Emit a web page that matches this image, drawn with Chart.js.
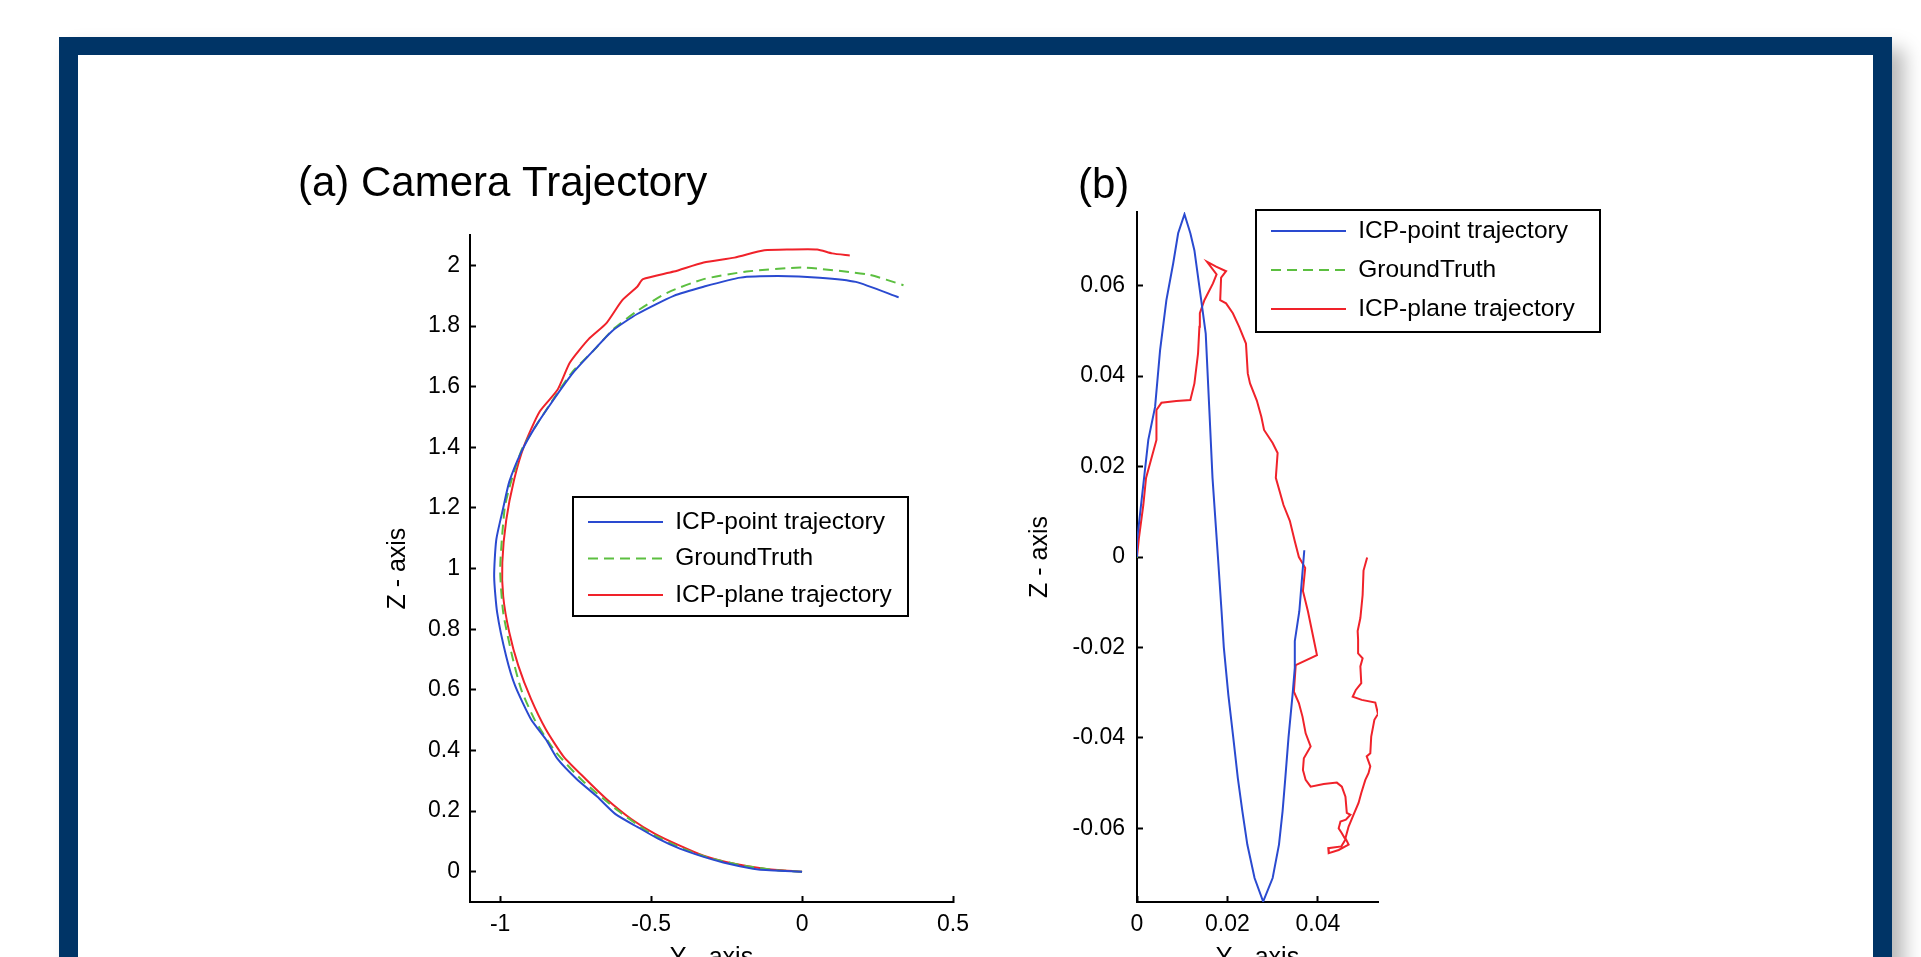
<!DOCTYPE html>
<html>
<head>
<meta charset="utf-8">
<script src="https://cdn.jsdelivr.net/npm/chart.js@4"></script>
<style>
  html, body { margin: 0; padding: 0; width: 1921px; height: 957px; overflow: hidden; background: #fff; }
  #frame { position: absolute; left: 59px; top: 37px; width: 1833px; height: 1100px; box-sizing: border-box;
           border: 19px solid #003466; border-top-width: 18px; background: #fff;
           box-shadow: 12px 12px 18px rgba(0,0,0,0.28); }
  #ca { position: absolute; left: 298px; top: 150px; }
  #cb { position: absolute; left: 1000px; top: 150px; }
</style>
</head>
<body>
<div id="frame"></div>
<canvas id="ca" width="700" height="832"></canvas>
<canvas id="cb" width="620" height="832"></canvas>
<script>
// ---------------- data ----------------
const TITLE_A = '(a) Camera Trajectory';
const TITLE_B = '(b)';
const SERIES_NAMES = ['ICP-point trajectory', 'GroundTruth', 'ICP-plane trajectory'];
const X_AXIS_TITLE = 'Y - axis';
const Y_AXIS_TITLE = 'Z - axis';

// chart (a)
const A_X_RANGE = [-1.1, 0.5];
const A_Y_RANGE = [-0.1, 2.1];
const A_X_TICKS = [-1, -0.5, 0, 0.5];
const A_X_TICK_LABELS = ['-1', '-0.5', '0', '0.5'];
const A_Y_TICKS = [0, 0.2, 0.4, 0.6, 0.8, 1, 1.2, 1.4, 1.6, 1.8, 2];
const A_Y_TICK_LABELS = ['0', '0.2', '0.4', '0.6', '0.8', '1', '1.2', '1.4', '1.6', '1.8', '2'];

const A_POINT_Y = [0, -0.145, -0.243, -0.326, -0.405, -0.477, -0.546, -0.618, -0.678, -0.747,
  -0.81, -0.849, -0.898, -0.95, -0.98, -1.01, -1.02, -1.013, -0.99, -0.97,
  -0.93, -0.888, -0.829, -0.757, -0.687, -0.628, -0.546, -0.425, -0.326, -0.204,
  -0.08, 0.058, 0.178, 0.32];
const A_POINT_Z = [0, 0.007, 0.026, 0.049, 0.076, 0.109, 0.148, 0.19, 0.247, 0.306,
  0.372, 0.437, 0.503, 0.612, 0.71, 0.855, 0.974, 1.095, 1.2, 1.286,
  1.385, 1.461, 1.549, 1.648, 1.724, 1.785, 1.84, 1.9, 1.93, 1.96,
  1.965, 1.96, 1.946, 1.895];

const A_TRUTH_Y = [0, -0.083, -0.194, -0.306, -0.405, -0.507, -0.608, -0.727, -0.82, -0.885,
  -0.93, -0.96, -0.99, -1.0, -0.985, -0.963, -0.925, -0.83, -0.76, -0.69,
  -0.625, -0.546, -0.447, -0.326, -0.184, 0.0, 0.22, 0.336];
const A_TRUTH_Z = [0, 0.005, 0.02, 0.045, 0.08, 0.13, 0.2, 0.3, 0.4, 0.5,
  0.6, 0.71, 0.855, 1.0, 1.2, 1.29, 1.4, 1.55, 1.65, 1.72,
  1.79, 1.85, 1.91, 1.955, 1.98, 1.993, 1.97, 1.935];

const A_PLANE_Y = [0, -0.125, -0.224, -0.326, -0.405, -0.487, -0.566, -0.648, -0.717, -0.79,
  -0.849, -0.898, -0.94, -0.97, -0.99, -0.993, -0.98, -0.954, -0.92, -0.87,
  -0.81, -0.769, -0.707, -0.648, -0.596, -0.546, -0.527, -0.425, -0.326, -0.224,
  -0.125, -0.04, 0.05, 0.1, 0.158];
const A_PLANE_Z = [0, 0.01, 0.026, 0.053, 0.086, 0.125, 0.174, 0.24, 0.306, 0.38,
  0.47, 0.57, 0.68, 0.79, 0.908, 1.02, 1.16, 1.293, 1.407, 1.517,
  1.59, 1.68, 1.757, 1.81, 1.885, 1.93, 1.955, 1.98, 2.01, 2.026,
  2.05, 2.053, 2.053, 2.04, 2.033];

// chart (b)
const B_X_RANGE = [0, 0.0533];
const B_Y_RANGE = [-0.0763, 0.0763];
const B_X_TICKS = [0, 0.02, 0.04];
const B_X_TICK_LABELS = ['0', '0.02', '0.04'];
const B_Y_TICKS = [-0.06, -0.04, -0.02, 0, 0.02, 0.04, 0.06];
const B_Y_TICK_LABELS = ['-0.06', '-0.04', '-0.02', '0', '0.02', '0.04', '0.06'];

const B_POINT_Y = [0, 0.0, 0.0025, 0.004, 0.0051, 0.0065, 0.008, 0.0091, 0.0105, 0.0118,
  0.0127, 0.0142, 0.0152, 0.016, 0.0167, 0.0179, 0.0187, 0.0192, 0.0202, 0.0213,
  0.0223, 0.0233, 0.0244, 0.026, 0.0279, 0.030, 0.0314, 0.0322, 0.0328, 0.0335,
  0.0344, 0.0349, 0.0349, 0.0359, 0.0365, 0.037];
const B_POINT_Z = [0, 0.0035, 0.0259, 0.0332, 0.0457, 0.0568, 0.0649, 0.0716, 0.0758, 0.0716,
  0.0678, 0.0568, 0.0494, 0.0325, 0.0175, 0.0, -0.012, -0.02, -0.0305, -0.04,
  -0.0489, -0.0562, -0.0636, -0.071, -0.0762, -0.071, -0.0636, -0.0562, -0.0489, -0.04,
  -0.0305, -0.0245, -0.0186, -0.012, -0.0046, 0.0015];

const B_TRUTH_Y = [0, 0.0002];
const B_TRUTH_Z = [0, 0];

const B_PLANE_Y = [0, 0.0004, 0.0014, 0.002, 0.0043, 0.0043, 0.0054, 0.0087, 0.0118, 0.0127,
  0.0135, 0.0138, 0.0139, 0.0149, 0.0168, 0.0176, 0.0155, 0.0175, 0.0197, 0.0186,
  0.0184, 0.0197, 0.0212, 0.0226, 0.0241, 0.0245, 0.025, 0.0265, 0.0275, 0.0281,
  0.030, 0.0311, 0.0307, 0.0324, 0.0338, 0.0349, 0.0358, 0.0372, 0.0367, 0.0378,
  0.0391, 0.0398, 0.0351, 0.0347, 0.0358, 0.0366, 0.0373, 0.0384, 0.0369, 0.0367,
  0.0373, 0.0384, 0.0413, 0.0442, 0.0453, 0.0461, 0.0464, 0.0472, 0.0462, 0.045,
  0.0446, 0.0453, 0.0461, 0.0452, 0.0423, 0.0424, 0.0446, 0.0468, 0.0461, 0.0468,
  0.0479, 0.049, 0.0496, 0.0505, 0.0512, 0.0516, 0.0508, 0.0516, 0.0518, 0.0525,
  0.0533, 0.0527, 0.0497, 0.0477, 0.0484, 0.0496, 0.0494, 0.0499, 0.0489, 0.0489,
  0.0488, 0.0494, 0.0499, 0.0501, 0.0509];
const B_PLANE_Z = [0, 0.004, 0.0115, 0.0175, 0.0259, 0.0325, 0.0341, 0.0345, 0.0347, 0.0384,
  0.045, 0.0509, 0.0539, 0.0568, 0.0605, 0.0625, 0.0653, 0.0642, 0.0632, 0.0618,
  0.0568, 0.0561, 0.0539, 0.0509, 0.0472, 0.0406, 0.0384, 0.0346, 0.031, 0.0281,
  0.0252, 0.023, 0.0175, 0.0115, 0.008, 0.0035, 0.0, -0.0024, -0.0075, -0.012,
  -0.0183, -0.0217, -0.0239, -0.0298, -0.0323, -0.0353, -0.039, -0.0419, -0.0445, -0.0471,
  -0.0493, -0.0508, -0.0502, -0.0499, -0.0508, -0.053, -0.0566, -0.057, -0.0581, -0.0585,
  -0.06, -0.0611, -0.0625, -0.064, -0.0644, -0.0655, -0.0648, -0.0636, -0.0622, -0.0596,
  -0.057, -0.0544, -0.0522, -0.0493, -0.0478, -0.0463, -0.0441, -0.0434, -0.0397, -0.036,
  -0.0347, -0.0322, -0.0316, -0.0309, -0.0294, -0.0279, -0.0242, -0.0224, -0.0213, -0.0183,
  -0.0164, -0.0135, -0.0084, -0.003, -0.0001];

// ---------------- styles ----------------
const FONT = "'Liberation Sans', Arial, Helvetica, sans-serif";
const COLORS = ['#2a4ad0', '#5cbf40', '#f0222a'];
const DASHES = [[], [10, 6], []];
const LINE_W = 2;

Chart.defaults.color = '#000';

function pts(xs, ys) { return xs.map((v, i) => ({ x: v, y: ys[i] })); }

function makeDatasets(series, tension) {
  return series.map((s, i) => ({
    label: SERIES_NAMES[i],
    data: pts(s[0], s[1]),
    borderColor: COLORS[i],
    backgroundColor: COLORS[i],
    borderWidth: LINE_W,
    borderDash: DASHES[i],
    showLine: true,
    fill: false,
    tension: tension,
    pointRadius: 0,
    pointHoverRadius: 0,
    pointStyle: 'line'
  }));
}

function axis(isX, range, ticks, labels, o) {
  return {
    type: 'linear',
    position: isX ? 'bottom' : 'left',
    bounds: 'data',
    min: range[0],
    max: range[1],
    afterBuildTicks: s => { s.ticks = ticks.map(v => ({ value: v })); },
    afterFit: s => { if (isX) s.height = o.size; else s.width = o.size; },
    ticks: {
      color: '#000',
      font: { family: FONT, size: 23 },
      padding: o.tickPad,
      autoSkip: false,
      maxRotation: 0,
      minRotation: 0,
      callback: v => labels[ticks.indexOf(v)]
    },
    grid: { display: true, drawOnChartArea: false, drawTicks: true, tickLength: -6, tickWidth: 2, tickColor: '#000' },
    border: { display: true, color: '#000', width: 2 },
    title: {
      display: true,
      text: isX ? X_AXIS_TITLE : Y_AXIS_TITLE,
      color: '#000',
      font: { family: FONT, size: 25 },
      padding: o.titlePad
    }
  };
}

// legend placement inside the plot, frame around it, optional title shift
const legendPlace = {
  id: 'legendPlace',
  afterLayout(chart, args, opts) {
    const lg = chart.legend;
    if (lg) {
      lg.left = opts.left; lg.top = opts.top;
      lg.width = opts.frame[2] + 40; lg.height = opts.frame[3] + 40;
      lg.right = lg.left + lg.width; lg.bottom = lg.top + lg.height;
    }
    const tb = chart.titleBlock;
    if (tb && opts.titleShift) { tb.left += opts.titleShift; tb.right += opts.titleShift; }
  },
  afterDraw(chart, args, opts) {
    const ctx = chart.ctx;
    const f = opts.frame;
    ctx.save();
    ctx.strokeStyle = '#000';
    ctx.lineWidth = 2;
    ctx.strokeRect(f[0], f[1], f[2], f[3]);
    ctx.restore();
  }
};

function legendOpts(pad) {
  return {
    display: true,
    position: 'chartArea',
    align: 'start',
    labels: {
      color: '#000',
      font: { family: FONT, size: 24.5 },
      usePointStyle: true,
      pointStyle: 'line',
      pointStyleWidth: 75,
      boxHeight: 24.5,
      padding: pad,
      generateLabels: chart => {
        const items = Chart.defaults.plugins.legend.labels.generateLabels(chart);
        items.forEach(it => {
          const ds = chart.data.datasets[it.datasetIndex];
          it.lineDash = ds.borderDash;
          it.lineWidth = ds.borderWidth;
          it.strokeStyle = ds.borderColor;
        });
        return items;
      }
    }
  };
}

function titleOpts(text, pTop, pBottom) {
  return {
    display: true, text: text, align: 'start', color: '#000',
    font: { family: FONT, size: 42, weight: 'normal' },
    padding: { top: pTop, bottom: pBottom }
  };
}

new Chart(document.getElementById('ca'), {
  type: 'scatter',
  data: { datasets: makeDatasets([[A_POINT_Y, A_POINT_Z], [A_TRUTH_Y, A_TRUTH_Z], [A_PLANE_Y, A_PLANE_Z]], 0.2) },
  options: {
    responsive: false, animation: false, events: [],
    layout: { padding: { left: 0, right: 45, top: 0, bottom: 0 } },
    scales: {
      x: axis(true, A_X_RANGE, A_X_TICKS, A_X_TICK_LABELS, { size: 80, tickPad: 15, titlePad: { top: 0, bottom: 9 } }),
      y: axis(false, A_Y_RANGE, A_Y_TICKS, A_Y_TICK_LABELS, { size: 172, tickPad: 16, titlePad: { top: 85, bottom: 0 } })
    },
    plugins: {
      title: titleOpts(TITLE_A, 9, 25.8),
      legend: legendOpts(12),
      tooltip: { enabled: false },
      legendPlace: { left: 278, top: 347.75, frame: [275, 347, 335, 119], titleShift: 0 }
    }
  },
  plugins: [legendPlace]
});

new Chart(document.getElementById('cb'), {
  type: 'scatter',
  data: { datasets: makeDatasets([[B_POINT_Y, B_POINT_Z], [B_TRUTH_Y, B_TRUTH_Z], [B_PLANE_Y, B_PLANE_Z]], 0) },
  options: {
    responsive: false, animation: false, events: [],
    layout: { padding: { left: 60, right: 242, top: 0, bottom: 0 } },
    scales: {
      x: axis(true, B_X_RANGE, B_X_TICKS, B_X_TICK_LABELS, { size: 80, tickPad: 15, titlePad: { top: 0, bottom: 9 } }),
      y: axis(false, B_Y_RANGE, B_Y_TICKS, B_Y_TICK_LABELS, { size: 77, tickPad: 18, titlePad: { top: -35, bottom: 0 } })
    },
    plugins: {
      title: titleOpts(TITLE_B, 11, 0.6),
      legend: legendOpts(14.5),
      tooltip: { enabled: false },
      legendPlace: { left: 256.5, top: 54.25, frame: [256, 60, 344, 122], titleShift: 18 }
    }
  },
  plugins: [legendPlace]
});
</script>
</body>
</html>
